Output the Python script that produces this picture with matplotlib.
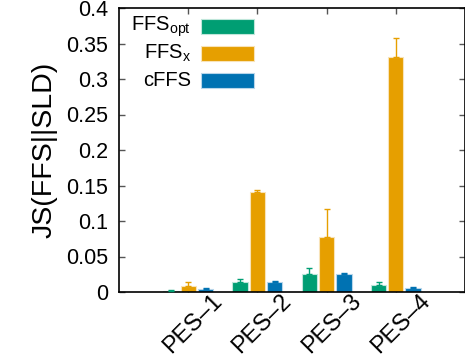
import matplotlib
matplotlib.use("Agg")
import matplotlib.pyplot as plt
import matplotlib.transforms as mtransforms
from matplotlib.patches import Rectangle
import numpy as np

plt.rcParams['font.family'] = ['Liberation Sans', 'DejaVu Sans']

categories = ["PES–1", "PES–2", "PES–3", "PES–4"]
series_labels = ["FFS$_{\\mathregular{opt}}$", "FFS$_{\\mathregular{x}}$", "cFFS"]
colors = ["#009E73", "#E69F00", "#0072B2"]
edge_colors = ["#bfe6da", "#f8e3b8", "#b8d6ea"]
values = [
    [0.002, 0.014, 0.025, 0.010],
    [0.008, 0.141, 0.077, 0.331],
    [0.004, 0.014, 0.025, 0.0055],
]
errors = [
    [0.001, 0.004, 0.009, 0.0045],
    [0.006, 0.002, 0.040, 0.027],
    [0.001, 0.0008, 0.002, 0.0015],
]
yticks = [0, 0.05, 0.1, 0.15, 0.2, 0.25, 0.3, 0.35, 0.4]
ytick_labels = ["0", "0.05", "0.1", "0.15", "0.2", "0.25", "0.3", "0.35", "0.4"]

W, H = 465, 364
fig = plt.figure(figsize=(W / 100, H / 100), dpi=100)
L, R, T, B = 119, 465, 8, 292
ax = fig.add_axes([L / W, 1 - B / H, (R - L) / W, (B - T) / H])

x = np.arange(1, len(categories) + 1)
offsets = [-0.25, 0.0, 0.25]
width = 0.22
for i in range(3):
    xi = x + offsets[i]
    ax.bar(xi, values[i], width=width, color=colors[i], edgecolor=edge_colors[i],
           linewidth=0.8, zorder=2)
    ax.errorbar(xi, values[i], yerr=[np.zeros(len(x)), errors[i]], fmt='none',
                ecolor=colors[i], elinewidth=1.0, capsize=2.5, capthick=1.0, zorder=3)

ax.set_xlim(0, 5)
ax.set_ylim(0, 0.4)
ax.set_yticks(yticks)
ax.set_yticklabels(ytick_labels, fontsize=15.5)
ax.set_xticks(x)
ax.set_xticklabels([])

# rotated category labels (gnuplot style, right end near tick, shifted right)
lab_offset = mtransforms.ScaledTranslation(0.23, 0.015, fig.dpi_scale_trans)
lab_trans = ax.get_xaxis_transform() + lab_offset
for xi, cat in zip(x, categories):
    ax.text(xi, 0, cat, transform=lab_trans, rotation=45, ha='right', va='top',
            rotation_mode='anchor', fontsize=17, clip_on=False)

ax.tick_params(axis='both', direction='in', top=True, right=True, length=4,
               width=1.0, color='#555555')
ax.tick_params(axis='y', pad=8)
for s in ax.spines.values():
    s.set_linewidth(1.2)
ax.set_ylabel("JS(FFS||SLD)", fontsize=20.5, labelpad=6)

# legend (gnuplot style: right-justified text, sample on right)
AW, AH = R - L, B - T
row_y = [26.5, 53.5, 80.5]
for lab, c, ec, py in zip(series_labels, colors, edge_colors, row_y):
    yf = (B - py) / AH
    ax.text((191 - L) / AW, yf, lab, transform=ax.transAxes, ha='right',
            va='center', fontsize=14.5)
    ax.add_patch(Rectangle(((201 - L) / AW, yf - 7.5 / AH), 53 / AW, 15 / AH,
                           transform=ax.transAxes, facecolor=c, edgecolor=ec,
                           linewidth=0.8, zorder=4))

fig.savefig("out.png", dpi=100)
